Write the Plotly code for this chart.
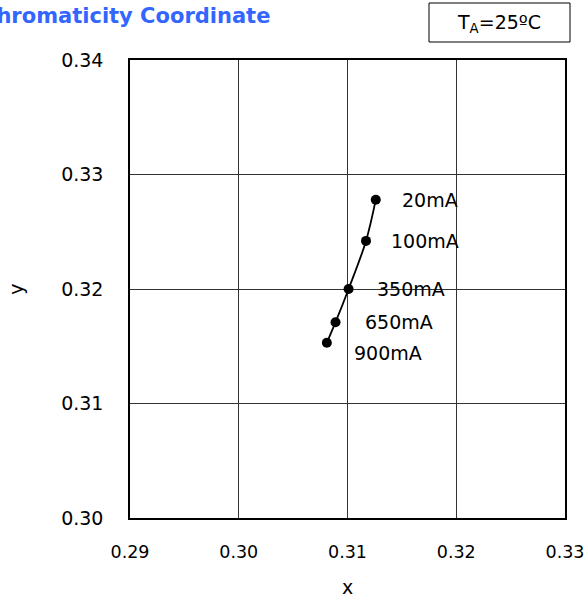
import plotly.graph_objects as go

# Data
currents = ["20mA", "100mA", "350mA", "650mA", "900mA"]
cx = [0.3126, 0.3117, 0.3101, 0.3089, 0.3081]
cy = [0.3278, 0.3242, 0.3200, 0.3171, 0.3153]
x_ticks = [0.29, 0.30, 0.31, 0.32, 0.33]
x_tick_labels = ["0.29", "0.30", "0.31", "0.32", "0.33"]
y_ticks = [0.30, 0.31, 0.32, 0.33, 0.34]
y_tick_labels = ["0.30", "0.31", "0.32", "0.33", "0.34"]
label_yshift = [0, 0, 0, 0, -10]
label_xshift = [24, 23, 26, 27, 25]

FONT = "DejaVu Sans"
FS = 19

# plot area in page pixels (reference): x 130..565, y 60..518
PW, PH = 435.0, 458.0

def px(xp):
    return (xp - 130) / PW

def py(yp):
    return 1 + (60 - yp) / PH

fig = go.Figure()
fig.add_trace(go.Scatter(
    x=cx, y=cy, mode="lines+markers",
    line=dict(color="black", width=1.8, shape="spline"),
    marker=dict(color="black", size=10, symbol="circle"),
    showlegend=False, hoverinfo="skip",
))

for lab, xv, yv, dx, dy in zip(currents, cx, cy, label_xshift, label_yshift):
    fig.add_annotation(x=xv, y=yv, text=lab, showarrow=False, xanchor="left",
                       yanchor="middle", xshift=dx, yshift=dy,
                       font=dict(family=FONT, size=FS, color="black"))

# Title (cut off at left in reference)
fig.add_annotation(xref="paper", yref="paper", x=px(272), y=py(16),
                   xanchor="right", yanchor="middle", showarrow=False,
                   text="<b>Chromaticity Coordinate</b>",
                   font=dict(family=FONT, size=21, color="#3366FF"))

# T_A box
fig.add_shape(type="rect", xref="paper", yref="paper",
              x0=px(429), x1=px(570), y0=py(42), y1=py(3),
              line=dict(color="black", width=1), fillcolor="white", layer="above")
fig.add_annotation(xref="paper", yref="paper", x=px(499), y=py(23),
                   xanchor="center", yanchor="middle", showarrow=False,
                   text="T<sub>A</sub>=25ºC",
                   font=dict(family=FONT, size=FS, color="black"))

axis_common = dict(
    showline=True, linecolor="black", linewidth=1.5, mirror=True,
    showgrid=True, gridcolor="#333333", gridwidth=1,
    zeroline=False, ticks="", automargin=False, ticklabeloverflow="allow",
)

fig.update_xaxes(range=[0.29, 0.33], tickvals=x_ticks, ticktext=x_tick_labels,
                 ticklabelstandoff=17, tickfont=dict(family=FONT, size=17.5, color="black"),
                 title=dict(text="x", font=dict(family=FONT, size=FS, color="black"), standoff=20),
                 **axis_common)
fig.update_yaxes(range=[0.30, 0.34], tickvals=y_ticks, ticktext=y_tick_labels,
                 ticklabelstandoff=21, tickfont=dict(family=FONT, size=FS, color="black"),
                 title=dict(text="y", font=dict(family=FONT, size=FS, color="black"), standoff=32),
                 **axis_common)

fig.update_layout(
    width=586, height=600,
    margin=dict(l=130, r=21, t=60, b=82),
    plot_bgcolor="white", paper_bgcolor="white",
    font=dict(family=FONT, size=FS, color="black"),
)

fig.write_html(
    "out.html",
    config={"displayModeBar": False},
    post_script="document.body.style.margin='0px';document.body.style.overflow='hidden';",
)
